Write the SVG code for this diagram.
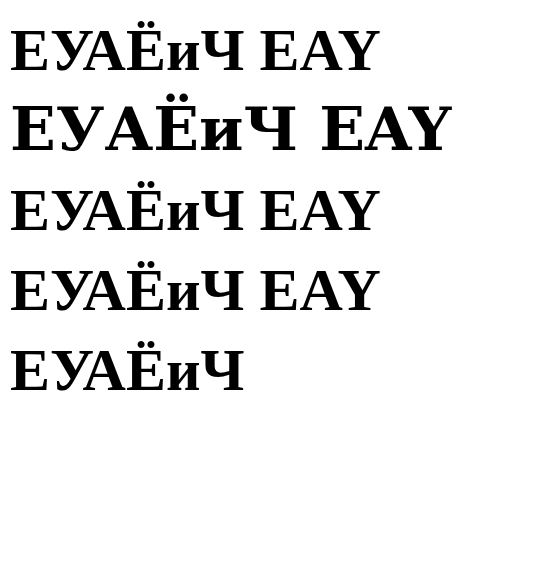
<svg xmlns="http://www.w3.org/2000/svg" width="559" height="564" viewBox="0 0 559 564">
<rect width="559" height="564" fill="#fff"/>
<text x="10" y="70" font-family="Liberation Serif" font-weight="bold" font-size="60">ЕУАЁиЧ EAY</text>
<text x="10" y="150" font-family="DejaVu Serif" font-weight="bold" font-size="60">ЕУАЁиЧ EAY</text>
<text x="10" y="230" font-family="Times New Roman" font-weight="bold" font-size="60">ЕУАЁиЧ EAY</text>
<text x="10" y="310" font-family="serif" font-weight="bold" font-size="60">ЕУАЁиЧ EAY</text>
<text x="10" y="390" font-family="Liberation Serif" font-weight="700" font-size="60">ЕУАЁиЧ</text>
</svg>
